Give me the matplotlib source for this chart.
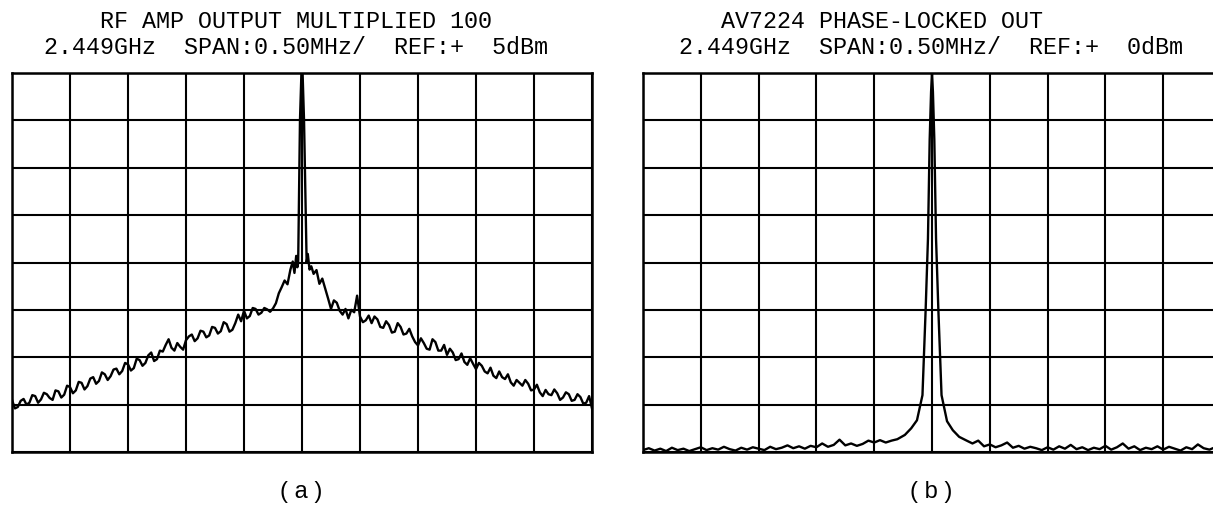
"""
Two spectrum-analyser screen captures side by side: (a) RF amp output with a
broad noise skirt, (b) the phase-locked source with a clean narrow carrier.
10 x 8 graticule, 0.50 MHz/div span, 10 dB/div.
"""
import matplotlib.pyplot as plt
import numpy as np

W, H = 1213, 508
DPI = 100

SPAN_PER_DIV = 0.5   # MHz
DB_PER_DIV = 10

REF_A = 5    # dBm, top of screen (a)
REF_B = 0    # dBm, top of screen (b)

TITLE_A = "RF AMP OUTPUT MULTIPLIED 100"
TITLE_B = "AV7224 PHASE-LOCKED OUT"
SETUP_A = "2.449GHz  SPAN:0.50MHz/  REF:+  5dBm"
SETUP_B = "2.449GHz  SPAN:0.50MHz/  REF:+  0dBm"
CAPTIONS = ["( a )", "( b )"]

# ---- (a) trace, dBm: lower skirt (-2.5 .. -0.1 MHz), carrier, upper skirt (0.1 .. 2.5 MHz)
skirt_a_lo = [
    -64.0, -65.8, -65.5, -64.2, -63.8, -65.0, -64.6, -63.0, -63.2, -64.6,
    -63.9, -62.5, -62.8, -63.6, -64.0, -62.0, -62.2, -63.5, -62.9, -61.0,
    -61.3, -62.6, -62.0, -60.2, -60.4, -61.8, -61.1, -59.5, -59.2, -60.6,
    -60.0, -58.2, -58.6, -59.8, -59.0, -57.6, -57.4, -58.6, -57.9, -56.2,
    -56.5, -57.8, -57.3, -55.3, -55.6, -56.8, -56.2, -54.6, -54.0, -55.8,
    -55.4, -53.6, -53.8, -52.4, -51.2, -53.0, -53.6, -52.0, -52.8, -53.4,
    -51.4, -50.6, -50.2, -51.6, -51.0, -49.4, -49.6, -50.8, -50.4, -48.6,
    -48.8, -50.0, -49.5, -47.6, -48.0, -49.6, -49.2, -47.8, -46.0, -47.4,
    -45.2, -46.8, -46.3, -44.6, -44.8, -46.0, -45.6, -44.6, -44.9, -45.4,
    -44.7, -43.6, -41.5, -40.2, -38.8, -39.6, -36.5,
]
carrier_a_freq = [-0.08, -0.065, -0.05, -0.04, -0.033, -0.0175, -0.005,
                  0.005, 0.0175, 0.04, 0.05, 0.065, 0.08]
carrier_a_level = [-34.8, -37.2, -33.6, -36.0, -35.0, -5.0, 5.0,
                   5.0, -5.0, -35.0, -33.2, -36.5, -35.8]
skirt_a_hi = [
    -37.4, -36.6, -39.5, -38.4, -40.5, -42.6, -44.8, -43.0, -43.5, -45.2,
    -46.0, -44.8, -46.8, -45.0, -45.5, -42.0, -46.4, -47.6, -47.2, -46.2,
    -47.8, -46.4, -47.0, -48.6, -48.8, -47.4, -48.2, -49.8, -49.6, -47.8,
    -48.6, -50.2, -50.0, -49.0, -50.6, -51.8, -52.5, -51.0, -52.0, -53.2,
    -53.4, -51.2, -51.8, -53.6, -53.6, -52.4, -54.5, -53.2, -54.0, -55.6,
    -55.4, -54.2, -56.0, -56.6, -55.2, -56.4, -57.5, -56.2, -56.8, -58.0,
    -58.4, -57.2, -58.9, -59.4, -58.0, -59.2, -59.6, -58.6, -60.3, -61.0,
    -59.8, -60.4, -61.0, -59.8, -60.6, -62.0, -61.8, -60.8, -62.4, -63.2,
    -61.9, -62.8, -63.0, -61.8, -62.6, -64.0, -63.5, -62.4, -62.8, -64.2,
    -64.0, -62.8, -63.4, -64.8, -64.6, -63.2, -65.8,
]

# ---- (b) trace, dBm: floor (-2.5 .. -0.35 MHz), carrier, floor (0.35 .. 2.5 MHz)
floor_b_lo = [
    -79.6, -79.2, -79.7, -79.3, -79.8, -79.1, -79.6, -79.3, -79.8, -79.4,
    -79.0, -79.6, -79.2, -79.5, -78.9, -79.4, -79.7, -79.1, -79.5, -79.0,
    -79.3, -79.6, -78.9, -79.4, -79.1, -78.6, -79.2, -78.8, -79.3, -78.7,
    -79.0, -78.2, -78.9, -78.5, -77.4, -78.6, -78.2, -78.7, -78.3, -77.6,
    -78.0, -77.5, -78.0, -77.6,
]
carrier_b_freq = [-0.30, -0.235, -0.18, -0.13, -0.0825, -0.055, -0.035, -0.02, -0.008, 0.0,
                  0.008, 0.02, 0.035, 0.055, 0.0825, 0.13, 0.18, 0.235, 0.30]
carrier_b_level = [-77.3, -76.4, -75.0, -73.3, -68.0, -50.0, -35.0, -14.0, -4.0, 0.0,
                   -4.0, -14.0, -35.0, -50.0, -68.0, -73.5, -75.4, -76.8, -77.6]
floor_b_hi = [
    -78.2, -77.6, -78.8, -78.4, -79.0, -78.6, -78.0, -79.1, -78.7, -79.3,
    -78.9, -79.2, -79.6, -79.0, -79.5, -78.8, -79.3, -78.5, -79.4, -79.0,
    -79.6, -79.1, -79.4, -78.7, -79.5, -79.0, -78.2, -79.3, -78.8, -79.6,
    -79.1, -79.4, -78.8, -79.5, -78.9, -79.3, -79.7, -79.0, -79.4, -78.4,
    -79.2, -79.5, -79.0, -79.4,
]


def assemble(lo, c_freq, c_level, hi, lo_end, hi_start):
    # skirts are sampled evenly across the screen, carrier points are hand-placed
    f_lo = np.linspace(-5 * SPAN_PER_DIV, lo_end, len(lo))
    f_hi = np.linspace(hi_start, 5 * SPAN_PER_DIV, len(hi))
    freq = np.concatenate([f_lo, c_freq, f_hi])
    level = np.concatenate([lo, c_level, hi])
    return freq, level


def px_axes(fig, x0, y0, x1, y1):
    return fig.add_axes([x0 / W, 1 - y1 / H, (x1 - x0) / W, (y1 - y0) / H])


def graticule(ax, ref):
    ax.set_xlim(-5 * SPAN_PER_DIV, 5 * SPAN_PER_DIV)
    ax.set_ylim(ref - 8 * DB_PER_DIV, ref)
    ax.set_xticks(np.arange(-5, 6) * SPAN_PER_DIV)
    ax.set_yticks(ref - np.arange(0, 9) * DB_PER_DIV)
    ax.grid(True, color="black", linewidth=1.5)
    ax.tick_params(length=0, labelbottom=False, labelleft=False)
    for s in ax.spines.values():
        s.set_linewidth(1.8)
        s.set_color("black")


fig = plt.figure(figsize=(W / DPI, H / DPI), dpi=DPI)

ax_a = px_axes(fig, 12, 73, 592, 452)
ax_b = px_axes(fig, 643, 73, 1221, 452)

graticule(ax_a, REF_A)
graticule(ax_b, REF_B)

fa, la = assemble(skirt_a_lo, carrier_a_freq, carrier_a_level, skirt_a_hi, -0.1, 0.1)
fb, lb = assemble(floor_b_lo, carrier_b_freq, carrier_b_level, floor_b_hi, -0.35, 0.35)
ax_a.plot(fa, la, color="black", linewidth=1.7, zorder=3)
ax_b.plot(fb, lb, color="black", linewidth=1.7, zorder=3)

mono = dict(family="Liberation Mono", fontsize=16.8, color="black", va="center", ha="left")
fig.text(100 / W, 1 - 22 / H, TITLE_A, **mono)
fig.text(44 / W, 1 - 48 / H, SETUP_A, **mono)
fig.text(721 / W, 1 - 22 / H, TITLE_B, **mono)
fig.text(679 / W, 1 - 48 / H, SETUP_B, **mono)

for cx, cap in zip((301, 931), CAPTIONS):
    fig.text(cx / W, 1 - 492 / H, cap, family="Liberation Sans", fontsize=17,
             ha="center", va="center", color="black")

fig.savefig("out.png", dpi=DPI)
